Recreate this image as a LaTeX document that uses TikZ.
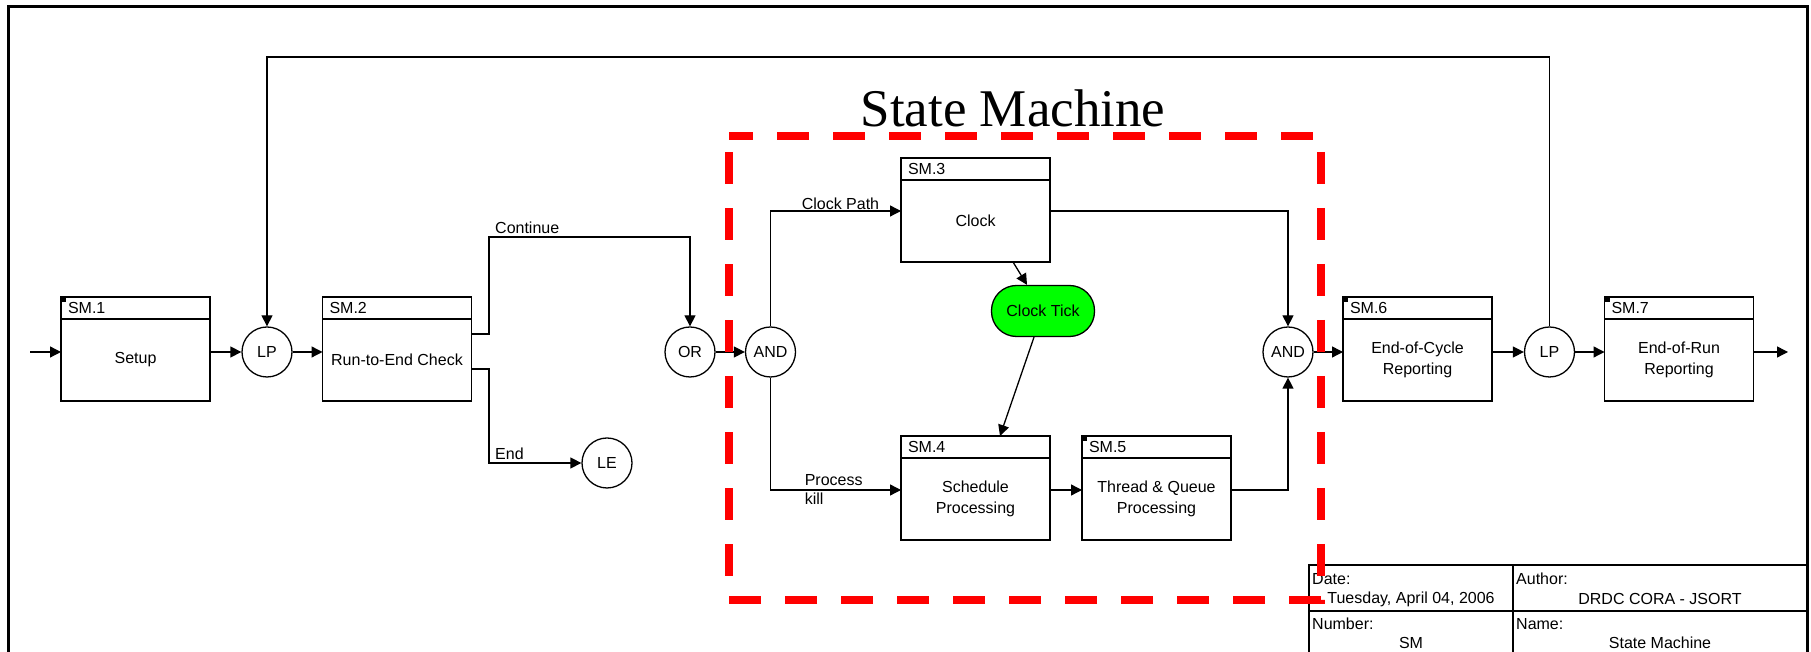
\documentclass[tikz,border=0pt]{standalone}
\usepackage{fontspec}
\setmainfont{Liberation Sans}
\newfontfamily\titlefont{Liberation Serif}
\usepackage{xcolor}
\usepackage{tikz}
\usetikzlibrary{positioning, arrows.meta, calc}

\definecolor{tickgreen}{RGB}{0,255,0}
\definecolor{framered}{RGB}{255,0,0}

\begin{document}
\begin{tikzpicture}[x=1pt, y=1pt, node distance=261.5pt,
    font=\fontsize{16}{19}\selectfont,
    >={Triangle[length=11pt, width=11pt]},
    conn/.style={->, line width=1.3pt},
    smbox/.style={draw, line width=1.4pt, minimum width=149pt, minimum height=82pt, outer sep=0pt, align=center, font=\fontsize{16}{21}\selectfont},
    smhdr/.style={draw, line width=1.4pt, minimum width=149pt, minimum height=22pt, text width=135pt, align=left, inner xsep=7pt, inner ysep=0pt, outer sep=0pt},
    hdrflag/.style={path picture={\fill (path picture bounding box.north west) rectangle ++(5pt,-5pt);}},
    gate/.style={circle, draw, line width=1.3pt, minimum size=50pt, inner sep=0pt},
    tickbox/.style={draw, line width=1.3pt, fill=tickgreen, rounded corners=25pt, minimum width=103pt, minimum height=51pt},
    lbl/.style={inner sep=1pt}]
    \useasboundingbox (0,0) rectangle (1811,652);

    % sheet frame and title block
    \draw[line width=3pt] (8,-20) |- (1807,645) -- (1807,-20);
    \draw[line width=2.5pt] (1309,-20) |- (1807,87);
    \draw[line width=2.5pt] (1309,41) -- (1807,41);
    \draw[line width=2.5pt] (1513,87) -- (1513,-20);
    \node (datek) [anchor=west, inner sep=1pt] at (1311,73) {Date:};
    \node (datev) at (1411,53) {Tuesday, April 04, 2006};
    \node (authk) [anchor=west, inner sep=1pt] at (1515,73) {Author:};
    \node (authv) at (1660,53) {DRDC CORA - JSORT};
    \node (numk) [anchor=west, inner sep=1pt] at (1311,28) {Number:};
    \node (numv) at (1411,9) {SM};
    \node (namek) [anchor=west, inner sep=1pt] at (1515,28) {Name:};
    \node (namev) at (1660,9) {State Machine};

    % main row
    \node (sm1) [smbox, label={[smhdr, hdrflag]above:SM.1}] at (135.5,292) {Setup};
    \node (sm2) [smbox, right of=sm1, label={[smhdr]above:SM.2}] {Run-to-End Check};
    \node (sm6) [smbox, label={[smhdr, hdrflag]above:SM.6}] at (1417.5,292) {End-of-Cycle\\Reporting};
    \node (sm7) [smbox, right of=sm6, label={[smhdr, hdrflag]above:SM.7}] {End-of-Run\\Reporting};

    % state machine
    \node (sm3) [smbox, label={[smhdr]above:SM.3}] at (975.5,431) {Clock};
    \node (sm4) [smbox, label={[smhdr, name=hdr4]above:SM.4}] at (975.5,153) {Schedule\\Processing};
    \node (sm5) [smbox, right of=sm4, node distance=181pt, label={[smhdr, hdrflag]above:SM.5}] {Thread \& Queue\\Processing};
    \node (tick) [tickbox] at (1043,341) {Clock Tick};

    % gates
    \node (lp1) [gate] at (267,300) {LP};
    \node (or) [gate] at (690,300) {OR};
    \node (and1) [gate, right of=or, node distance=80.5pt] {AND};
    \node (le) [gate] at (607,189) {LE};
    \node (and2) [gate] at (1288,300) {AND};
    \node (lp2) [gate, right of=and2] {LP};

    \coordinate (start) at (30,300);
    \coordinate (finish) at (1788,300);
    \coordinate (loop) at (267,595);
    \coordinate (cont) at (489,415);

    \draw[conn] (start) -- (start -| sm1.west);
    \draw[conn] (sm1.east |- lp1) -- (lp1);
    \draw[conn] (lp1) -- (lp1 -| sm2.west);
    \draw[conn] ([yshift=26pt]sm2.east) -| (cont) -| (or);
    \node (contlbl) [lbl, anchor=south west, xshift=5pt, yshift=2pt] at (cont) {Continue};
    \draw[conn] ([yshift=-9pt]sm2.east) -| (cont |- le) -- (le);
    \node (endlbl) [lbl, anchor=south west, xshift=5pt, yshift=2pt] at (cont |- le) {End};
    \draw[conn] (or) -- (and1);
    \draw[conn] (and1) |- node (clkpath) [lbl, pos=0.768, above] {Clock Path} ([yshift=10pt]sm3.west);
    \draw[conn] (and1) |- node (pkill) [lbl, pos=0.625, anchor=west, align=left] {Process\\kill} ([yshift=9pt]sm4.west);
    \draw[conn] ([xshift=37.5pt]sm3.south) -- (tick);
    \draw[conn] (tick) -- ([xshift=24.5pt]hdr4.north);
    \draw[conn] ([yshift=10pt]sm3.east) -| (and2);
    \draw[conn] ([yshift=9pt]sm4.east) -- ([yshift=9pt]sm5.west);
    \draw[conn] ([yshift=9pt]sm5.east) -| (and2);
    \draw[conn] (and2) -- (and2 -| sm6.west);
    \draw[conn] (sm6.east |- lp2) -- (lp2);
    \draw[conn] (lp2) -- (lp2 -| sm7.west);
    \draw[conn] (sm7.east |- finish) -- (finish);
    \draw[conn] (lp2) |- (loop) -- (lp1);

    % dashed frame round the state machine
    \draw[framered, line width=8pt, dash pattern=on 32pt off 24pt, dash phase=8pt] (729,516) -- (1321,516) -- (1321,52) -- (729,52) -- cycle;
    \node (title) [font=\titlefont\fontsize{53}{60}\selectfont, anchor=base] at (1013,525) {State Machine};
\end{tikzpicture}
\end{document}
